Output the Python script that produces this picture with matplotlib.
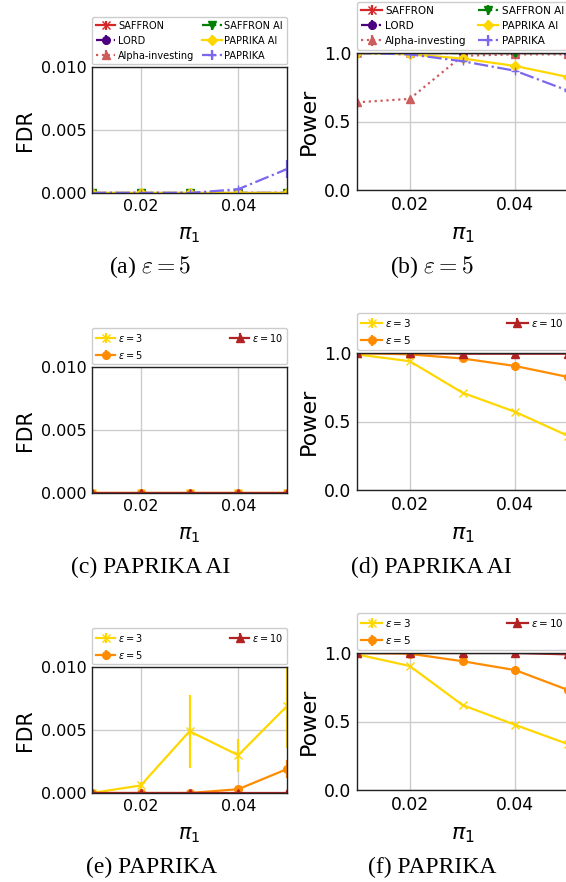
import numpy as np
import matplotlib
matplotlib.use('Agg')
import matplotlib.pyplot as plt

W, H = 566, 882

pi1 = [0.01, 0.02, 0.03, 0.04, 0.05]

# (a) FDR, eps = 5
saffron_fdr = [0.0, 0.0, 0.0, 0.0, 0.0]
lord_fdr = [0.0, 0.0, 0.0, 0.0, 0.0]
alpha_fdr = [0.0, 0.0, 0.0, 0.0, 0.0]
saffron_ai_fdr = [0.0, 0.0, 0.0, 0.0, 0.0]
paprika_ai_fdr = [0.0, 0.0, 0.0, 0.0, 0.0]
paprika_fdr = [0.0, 0.0, 0.0, 0.0003, 0.0019]
paprika_fdr_err = [0.0, 0.0, 0.0, 0.0001, 0.0007]

# (b) Power, eps = 5
saffron_pow = [1.0, 1.0, 1.0, 1.0, 1.0]
lord_pow = [1.0, 1.0, 1.0, 1.0, 1.0]
alpha_pow = [0.64, 0.665, 0.98, 0.99, 0.99]
saffron_ai_pow = [1.0, 1.0, 1.0, 1.0, 1.0]
paprika_ai_pow = [1.0, 0.99, 0.96, 0.905, 0.825]
paprika_pow = [1.0, 0.99, 0.94, 0.87, 0.725]

# (c)/(d) PAPRIKA AI over eps
ai_fdr_e3 = [0.0, 0.0, 0.0, 0.0, 0.0]
ai_fdr_e5 = [0.0, 0.0, 0.0, 0.0, 0.0]
ai_fdr_e10 = [0.0, 0.0, 0.0, 0.0, 0.0]
ai_pow_e3 = [0.99, 0.94, 0.71, 0.57, 0.395]
ai_pow_e5 = [1.0, 0.99, 0.96, 0.905, 0.825]
ai_pow_e10 = [1.0, 1.0, 0.995, 0.995, 0.995]

# (e)/(f) PAPRIKA over eps
pk_fdr_e3 = [0.0, 0.0006, 0.0049, 0.0030, 0.0069]
pk_fdr_e3_err = [0.0, 0.0003, 0.0029, 0.0013, 0.0033]
pk_fdr_e5 = [0.0, 0.0, 0.0, 0.0003, 0.0019]
pk_fdr_e5_err = [0.0, 0.0, 0.0, 0.0001, 0.0007]
pk_fdr_e10 = [0.0, 0.0, 0.0, 0.0, 0.0]
pk_pow_e3 = [0.99, 0.905, 0.62, 0.475, 0.335]
pk_pow_e5 = [1.0, 0.995, 0.94, 0.875, 0.73]
pk_pow_e10 = [1.0, 1.0, 1.0, 1.0, 0.99]

method_labels = ['SAFFRON', 'LORD', 'Alpha-investing', 'SAFFRON AI', 'PAPRIKA AI', 'PAPRIKA']
method_colors = ['tab:red', 'indigo', 'indianred', 'green', 'gold', 'mediumslateblue']
method_markers = ['x', 'o', '^', 'v', 'D', '+']
method_styles = ['-', '-.', ':', '-.', '-', '-.']

eps_labels = [r'$\varepsilon=3$', r'$\varepsilon=5$', r'$\varepsilon=10$']
eps_colors = ['gold', 'darkorange', 'firebrick']
eps_markers = ['x', 'o', '^']

captions = [r'(a) $\varepsilon=5$', r'(b) $\varepsilon=5$', '(c) PAPRIKA AI',
            '(d) PAPRIKA AI', '(e) PAPRIKA', '(f) PAPRIKA']


def px_axes(fig, left, top, right, bottom):
    return fig.add_axes([left / W, 1 - bottom / H, (right - left) / W, (bottom - top) / H])


def style_axes(ax, ylabel, big):
    fs_tick = 12.4 if big else 11.5
    fs_lab = 16 if big else 14.8
    ax.set_xlim(0.01, 0.05)
    ax.set_xticks([0.02, 0.04])
    ax.set_xticklabels(['0.02', '0.04'])
    if ylabel == 'FDR':
        ax.set_ylim(0, 0.01)
        ax.set_yticks([0.0, 0.005, 0.01])
        ax.set_yticklabels(['0.000', '0.005', '0.010'])
    else:
        ax.set_ylim(0, 1.0)
        ax.set_yticks([0.0, 0.5, 1.0])
        ax.set_yticklabels(['0.0', '0.5', '1.0'])
    ax.grid(True, color='#cccccc', linewidth=1.0)
    ax.set_axisbelow(True)
    ax.tick_params(length=0, pad=4, labelsize=fs_tick)
    for s in ax.spines.values():
        s.set_color('#222222')
        s.set_linewidth(1.0)
    ax.set_ylabel(ylabel, fontsize=fs_lab, labelpad=4)
    ax.set_xlabel(r'$\pi_1$', fontsize=fs_lab, labelpad=8)


def add_legend(ax, fs):
    ax.legend(loc='lower left', bbox_to_anchor=(0, 1.02, 1, 0.2), mode='expand',
              ncol=2, borderaxespad=0, fontsize=fs, labelspacing=0.5,
              handlelength=2.0, handletextpad=0.3, borderpad=0.4, framealpha=1)


def plot_methods(ax, series, errs):
    for i in range(6):
        ax.errorbar(pi1, series[i], yerr=errs[i], color=method_colors[i],
                    marker=method_markers[i], linestyle=method_styles[i],
                    linewidth=1.6, markersize=5.5, label=method_labels[i])


def plot_eps(ax, series, errs):
    for i in range(3):
        ax.errorbar(pi1, series[i], yerr=errs[i], color=eps_colors[i],
                    marker=eps_markers[i], linestyle='-',
                    linewidth=1.6, markersize=5.5, label=eps_labels[i])


fig = plt.figure(figsize=(W / 100, H / 100), dpi=100)

z = [0.0] * 5
small = [0.004] * 5

# row 1
ax = px_axes(fig, 92, 67, 287, 193)
plot_methods(ax, [saffron_fdr, lord_fdr, alpha_fdr, saffron_ai_fdr, paprika_ai_fdr, paprika_fdr],
             [z, z, z, z, z, paprika_fdr_err])
style_axes(ax, 'FDR', False)
add_legend(ax, 7)

ax = px_axes(fig, 357, 53, 568, 190)
plot_methods(ax, [saffron_pow, lord_pow, alpha_pow, saffron_ai_pow, paprika_ai_pow, paprika_pow],
             [small] * 6)
style_axes(ax, 'Power', True)
add_legend(ax, 7.5)

# row 2
ax = px_axes(fig, 92, 367, 287, 493)
plot_eps(ax, [ai_fdr_e3, ai_fdr_e5, ai_fdr_e10], [z, z, z])
style_axes(ax, 'FDR', False)
add_legend(ax, 7)

ax = px_axes(fig, 357, 353, 568, 490)
plot_eps(ax, [ai_pow_e3, ai_pow_e5, ai_pow_e10], [small] * 3)
style_axes(ax, 'Power', True)
add_legend(ax, 7.5)

# row 3
ax = px_axes(fig, 92, 667, 287, 793)
plot_eps(ax, [pk_fdr_e3, pk_fdr_e5, pk_fdr_e10], [pk_fdr_e3_err, pk_fdr_e5_err, z])
style_axes(ax, 'FDR', False)
add_legend(ax, 7)

ax = px_axes(fig, 357, 653, 568, 790)
plot_eps(ax, [pk_pow_e3, pk_pow_e5, pk_pow_e10], [small] * 3)
style_axes(ax, 'Power', True)
add_legend(ax, 7.5)

# captions
cap_pos = [(150, 267), (432, 267), (151, 567), (431, 567), (151, 867), (432, 867)]
for (cx, cy), txt in zip(cap_pos, captions):
    fig.text(cx / W, 1 - cy / H, txt, ha='center', va='center', fontsize=17,
             family='Liberation Serif', math_fontfamily='cm')

fig.savefig('out.png', dpi=100)
